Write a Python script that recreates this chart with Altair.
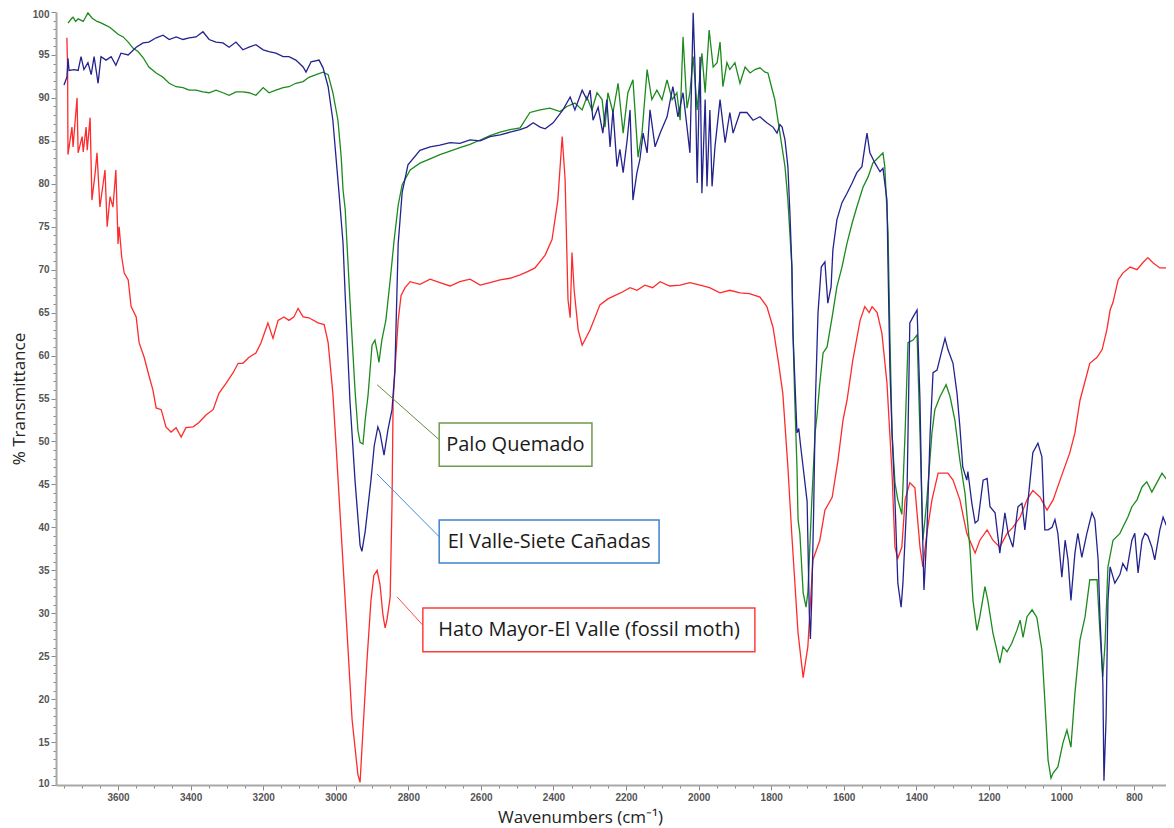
import altair as alt
import pandas as pd

# ---------------- data ----------------
RED_WN = [3741, 3739, 3738, 3727, 3724, 3713, 3710, 3699, 3696, 3688, 3685, 3677, 3672, 3663, 3658, 3650,
          3636, 3630, 3622, 3614, 3606, 3600, 3597, 3590, 3583, 3572, 3564, 3550, 3542, 3528, 3517, 3504,
          3495, 3481, 3468, 3454, 3440, 3426, 3413, 3393, 3377, 3357, 3338, 3322, 3302, 3283, 3269, 3256,
          3239, 3220, 3206, 3187, 3173, 3159, 3143, 3129, 3115, 3104, 3090, 3074, 3049, 3032, 3021, 3008,
          2999, 2974, 2955, 2939, 2933, 2925, 2914, 2903, 2895, 2886, 2878, 2870, 2864, 2859, 2850, 2845,
          2842, 2837, 2828, 2820, 2809, 2795, 2768, 2740, 2713, 2685, 2658, 2630, 2602, 2575, 2547, 2520,
          2492, 2470, 2451, 2423, 2404, 2388, 2376, 2368, 2360, 2354, 2349, 2343, 2332, 2321, 2299, 2272,
          2250, 2230, 2210, 2189, 2170, 2148, 2127, 2106, 2080, 2051, 2024, 1996, 1970, 1941, 1914, 1886,
          1860, 1831, 1812, 1795, 1781, 1768, 1754, 1743, 1726, 1712, 1699, 1685, 1666, 1652, 1632, 1616,
          1602, 1591, 1575, 1555, 1542, 1530, 1522, 1508, 1495, 1481, 1467, 1459, 1451, 1440, 1431, 1418,
          1404, 1390, 1382, 1371, 1357, 1340, 1313, 1299, 1280, 1261, 1238, 1225, 1205, 1189, 1170, 1150,
          1134, 1114, 1095, 1079, 1059, 1040, 1023, 1004, 977, 963, 949, 922, 902, 888, 875, 866,
          858, 844, 831, 811, 792, 776, 762, 748, 729, 709, 690]
RED_T = [97.0, 93.5, 83.4, 86.6, 84.3, 90.0, 83.6, 85.5, 83.7, 86.6, 83.9, 87.7, 78.1, 81.3, 83.6, 77.3,
         81.6, 75.0, 78.5, 77.3, 81.6, 73.0, 75.0, 71.5, 69.6, 68.8, 65.7, 64.5, 61.5, 59.8, 58.0, 56.0,
         53.9, 53.7, 51.7, 51.1, 51.6, 50.5, 51.6, 51.7, 52.2, 53.1, 53.7, 55.6, 56.8, 58.0, 59.1, 59.1,
         59.8, 60.3, 61.5, 63.8, 62.0, 64.1, 64.5, 64.1, 64.5, 65.5, 64.5, 64.4, 63.8, 63.6, 61.5, 55.6,
         49.4, 31.5, 17.6, 11.2, 10.3, 16.4, 24.5, 31.5, 34.4, 35.0, 33.3, 29.8, 28.3, 29.2, 31.9, 42.8,
         54.5, 58.3, 64.1, 67.0, 67.9, 68.6, 68.3, 68.9, 68.5, 68.1, 68.6, 68.9, 68.2, 68.5, 68.8, 69.0,
         69.4, 69.8, 70.2, 71.7, 73.5, 78.1, 85.5, 80.5, 66.5, 64.4, 72.0, 67.6, 63.0, 61.2, 63.0, 65.9,
         66.6, 67.0, 67.4, 67.9, 67.6, 68.2, 67.9, 68.6, 68.1, 68.2, 68.5, 68.2, 67.9, 67.3, 67.6, 67.3,
         67.2, 66.8, 65.7, 63.3, 59.5, 55.6, 47.0, 39.0, 27.7, 22.5, 26.1, 36.2, 38.5, 42.0, 43.5, 47.8,
         52.5, 54.8, 59.5, 64.1, 65.7, 65.0, 65.7, 65.0, 62.6, 56.8, 46.3, 37.7, 36.4, 37.7, 43.2, 45.2,
         44.6, 37.7, 35.4, 39.3, 43.2, 46.3, 46.3, 45.5, 43.2, 39.3, 37.0, 38.5, 39.7, 38.5, 37.7, 39.3,
         40.0, 41.2, 43.2, 44.3, 43.5, 42.0, 43.2, 45.5, 48.7, 51.0, 54.8, 59.1, 59.8, 60.7, 63.0, 65.3,
         66.2, 68.8, 69.6, 70.3, 70.0, 70.8, 71.4, 70.8, 70.2, 70.2, 69.6]

GREEN_WN = [3738, 3727, 3724, 3717, 3710, 3696, 3683, 3672, 3658, 3650, 3636, 3622, 3608, 3600, 3586, 3572,
            3559, 3545, 3531, 3515, 3495, 3476, 3459, 3440, 3421, 3404, 3385, 3366, 3349, 3330, 3311, 3294,
            3275, 3256, 3239, 3220, 3200, 3184, 3165, 3145, 3129, 3110, 3090, 3074, 3054, 3035, 3021, 3008,
            2994, 2985, 2980, 2974, 2961, 2947, 2939, 2933, 2925, 2919, 2911, 2900, 2892, 2886, 2881, 2873,
            2862, 2850, 2839, 2828, 2817, 2795, 2768, 2740, 2713, 2685, 2658, 2630, 2602, 2575, 2547, 2520,
            2492, 2465, 2437, 2410, 2382, 2363, 2341, 2321, 2308, 2294, 2280, 2266, 2258, 2250, 2236, 2222,
            2208, 2195, 2181, 2167, 2156, 2142, 2129, 2115, 2101, 2087, 2073, 2060, 2051, 2043, 2032, 2024,
            2015, 2004, 1991, 1982, 1971, 1960, 1949, 1941, 1933, 1922, 1914, 1900, 1886, 1872, 1858, 1845,
            1831, 1817, 1809, 1795, 1790, 1776, 1762, 1754, 1743, 1740, 1735, 1729, 1726, 1721, 1712, 1704,
            1699, 1688, 1679, 1674, 1666, 1657, 1646, 1632, 1619, 1605, 1591, 1577, 1564, 1547, 1533, 1520,
            1506, 1492, 1487, 1478, 1473, 1467, 1459, 1451, 1440, 1431, 1423, 1409, 1398, 1390, 1382, 1371,
            1357, 1349, 1335, 1318, 1307, 1294, 1280, 1266, 1252, 1244, 1233, 1225, 1211, 1203, 1189, 1170,
            1161, 1150, 1137, 1123, 1114, 1106, 1095, 1081, 1068, 1054, 1046, 1037, 1029, 1023, 1010, 996,
            985, 974, 963, 949, 935, 922, 902, 894, 886, 880, 872, 858, 839, 831, 817, 806,
            792, 778, 765, 751, 737, 723, 709, 695]
GREEN_T = [98.7, 99.3, 99.4, 98.9, 99.2, 98.9, 99.9, 99.3, 98.9, 98.8, 98.5, 98.2, 97.7, 97.4, 97.1, 96.5,
           95.8, 95.4, 94.7, 93.6, 92.9, 92.4, 91.7, 91.3, 91.2, 90.9, 90.9, 90.7, 90.6, 90.9, 90.6, 90.3,
           90.7, 90.7, 90.6, 90.3, 91.2, 90.6, 90.9, 91.2, 91.3, 91.7, 91.9, 92.4, 92.7, 93.0, 92.7, 90.6,
           87.4, 83.1, 79.3, 77.0, 66.5, 56.0, 51.3, 49.9, 49.7, 52.5, 55.4, 61.2, 61.8, 60.5, 59.2, 61.8,
           64.1, 68.8, 73.5, 77.5, 79.9, 81.6, 82.4, 82.9, 83.4, 83.8, 84.2, 84.6, 85.1, 85.6, 86.0, 86.3,
           86.5, 88.3, 88.6, 88.8, 88.4, 89.0, 89.4, 88.6, 90.1, 88.6, 90.6, 89.8, 86.6, 90.6, 88.3, 91.7,
           85.9, 90.6, 92.1, 83.1, 85.9, 93.3, 89.8, 90.9, 89.8, 92.1, 89.8, 90.6, 87.4, 97.1, 88.8, 90.6,
           94.8, 88.6, 95.2, 90.6, 97.9, 93.6, 94.1, 96.5, 91.3, 94.1, 93.3, 94.1, 91.7, 93.6, 92.9, 93.3,
           93.5, 93.0, 92.9, 90.6, 89.8, 85.9, 82.0, 78.1, 70.3, 62.6, 54.8, 47.0, 40.9, 39.3, 32.4, 30.7,
           32.4, 43.2, 51.0, 52.9, 56.8, 60.3, 61.0, 64.5, 68.0, 70.3, 73.1, 75.4, 77.3, 79.6, 80.8, 82.4,
           83.0, 83.6, 82.0, 74.3, 62.6, 51.0, 45.2, 43.2, 41.5, 51.0, 61.5, 61.8, 62.4, 51.0, 38.5, 43.2,
           51.0, 53.7, 55.2, 56.6, 55.2, 52.5, 47.8, 44.0, 37.4, 31.5, 28.0, 29.6, 33.1, 31.5, 27.7, 24.2,
           26.1, 25.5, 26.5, 28.0, 29.2, 27.2, 29.6, 30.4, 29.5, 25.7, 19.9, 12.9, 10.8, 11.4, 12.1, 14.9,
           16.4, 14.4, 20.7, 26.9, 29.6, 33.9, 33.9, 27.7, 22.6, 26.5, 35.4, 38.5, 39.3, 40.0, 41.2, 42.4,
           43.2, 44.7, 45.3, 44.1, 45.2, 46.3, 45.5, 43.2]

BLUE_WN = [3749, 3741, 3738, 3735, 3721, 3710, 3702, 3694, 3683, 3674, 3666, 3655, 3647, 3633, 3619, 3606,
           3592, 3572, 3550, 3531, 3515, 3495, 3476, 3459, 3440, 3421, 3404, 3385, 3366, 3349, 3330, 3311,
           3294, 3275, 3256, 3239, 3220, 3200, 3184, 3165, 3145, 3129, 3110, 3090, 3082, 3068, 3046, 3035,
           3021, 3008, 2991, 2980, 2974, 2961, 2947, 2933, 2928, 2919, 2911, 2903, 2894, 2884, 2878, 2867,
           2856, 2845, 2837, 2828, 2817, 2801, 2768, 2740, 2713, 2685, 2658, 2630, 2602, 2575, 2547, 2520,
           2492, 2473, 2456, 2437, 2423, 2401, 2374, 2354, 2341, 2321, 2308, 2299, 2291, 2277, 2264, 2253,
           2244, 2236, 2225, 2217, 2208, 2197, 2189, 2181, 2170, 2162, 2153, 2142, 2134, 2120, 2106, 2087,
           2071, 2057, 2043, 2032, 2024, 2015, 2010, 2004, 1996, 1991, 1982, 1977, 1969, 1963, 1955, 1941,
           1927, 1914, 1905, 1886, 1867, 1850, 1831, 1812, 1795, 1784, 1776, 1770, 1762, 1754, 1748, 1743,
           1740, 1729, 1724, 1719, 1712, 1701, 1695, 1692, 1688, 1683, 1678, 1671, 1662, 1652, 1644, 1635,
           1630, 1619, 1605, 1591, 1577, 1564, 1550, 1542, 1536, 1528, 1514, 1500, 1492, 1481, 1478, 1473,
           1467, 1459, 1451, 1442, 1437, 1426, 1418, 1409, 1398, 1390, 1385, 1379, 1371, 1362, 1354, 1343,
           1329, 1321, 1313, 1299, 1288, 1280, 1272, 1261, 1258, 1247, 1238, 1230, 1216, 1205, 1197, 1183,
           1170, 1156, 1147, 1134, 1120, 1109, 1101, 1092, 1079, 1065, 1054, 1046, 1037, 1026, 1018, 1010,
           999, 990, 982, 974, 963, 955, 944, 930, 916, 908, 899, 894, 886, 883, 877, 872,
           866, 853, 839, 831, 820, 806, 798, 789, 778, 770, 762, 751, 743, 729, 720, 709,
           701, 693]
BLUE_T = [91.5, 92.4, 94.6, 93.2, 93.3, 93.2, 94.8, 93.3, 94.1, 92.7, 94.8, 91.7, 94.8, 94.4, 94.8, 93.8,
          95.2, 95.0, 95.9, 96.4, 96.5, 97.0, 97.3, 96.8, 97.1, 96.8, 97.0, 97.1, 97.7, 96.8, 96.5, 96.4,
          95.9, 96.5, 95.6, 95.9, 96.2, 95.6, 95.4, 95.2, 94.8, 94.8, 94.4, 93.6, 93.0, 94.2, 94.4, 93.5,
          91.3, 87.4, 78.9, 73.1, 67.0, 54.8, 45.5, 37.9, 37.2, 39.5, 42.5, 45.5, 49.5, 51.7, 51.0, 48.4,
          51.4, 53.7, 58.3, 73.0, 79.0, 82.2, 83.9, 84.3, 84.5, 84.8, 84.7, 85.1, 85.0, 85.5, 85.7, 86.0,
          86.3, 86.6, 87.1, 86.6, 86.4, 87.1, 88.6, 90.1, 88.6, 90.9, 89.8, 90.9, 87.4, 88.9, 85.9, 89.8,
          84.3, 88.6, 82.0, 84.0, 81.3, 85.1, 88.6, 78.1, 81.3, 82.8, 85.9, 83.6, 88.6, 84.3, 85.9, 87.8,
          91.3, 87.8, 90.6, 86.6, 83.6, 99.9, 93.6, 80.1, 94.8, 78.9, 89.8, 79.7, 88.6, 79.7, 84.3, 89.8,
          84.8, 88.3, 85.9, 88.3, 88.3, 87.4, 87.8, 87.1, 86.6, 85.9, 86.9, 86.6, 85.1, 82.0, 76.1, 70.3,
          62.6, 51.0, 51.5, 49.5, 47.0, 43.0, 30.0, 27.0, 32.0, 42.0, 55.0, 65.0, 70.3, 70.9, 66.1, 68.0,
          72.3, 75.8, 77.8, 78.9, 80.1, 81.3, 82.0, 84.3, 85.9, 83.6, 82.4, 81.4, 81.8, 78.1, 70.3, 58.7,
          51.0, 43.2, 33.5, 30.7, 33.5, 43.2, 63.8, 64.5, 65.3, 54.8, 43.2, 32.7, 39.3, 51.0, 58.0, 58.3,
          60.7, 62.0, 60.7, 59.1, 55.6, 51.7, 47.0, 45.5, 46.5, 42.8, 40.5, 40.8, 45.5, 45.7, 42.4, 41.7,
          37.0, 41.7, 39.3, 37.7, 42.4, 42.8, 39.7, 43.2, 48.7, 49.8, 48.2, 39.7, 39.7, 40.0, 40.9, 39.3,
          34.2, 38.5, 36.2, 31.5, 37.0, 39.3, 36.5, 39.3, 41.7, 40.9, 36.2, 29.6, 21.9, 10.5, 17.9, 31.5,
          35.4, 33.5, 34.5, 35.8, 35.0, 38.5, 39.3, 34.7, 38.5, 39.3, 39.0, 37.7, 36.2, 39.7, 41.2, 40.0,
          33.5, 30.4]

SERIES = ["Hato Mayor-El Valle (fossil moth)", "Palo Quemado", "El Valle-Siete Cañadas"]
LINE_COLORS = ["#ff2b2b", "#1c8a1c", "#23238f"]

# annotation boxes (in data units: wavenumber / % transmittance)
ANN_NAME = ["Palo Quemado", "El Valle-Siete Cañadas", "Hato Mayor-El Valle (fossil moth)"]
BOX_X1 = [2715, 2715, 2760]
BOX_X2 = [2294, 2109, 1845]
BOX_Y1 = [52.15, 40.86, 30.6]
BOX_Y2 = [47.1, 35.85, 25.5]
TEXT_X = [2505, 2412, 2302]
TEXT_Y = [49.6, 38.35, 28.05]
LEAD_X1 = [2886, 2886, 2831]
LEAD_Y1 = [56.6, 46.2, 31.9]
LEAD_X2 = [2715, 2715, 2760]
LEAD_Y2 = [50.2, 38.9, 28.6]
BOX_COLORS = ["#6f9b4c", "#3c82cf", "#ff3d3d"]
LEAD_COLORS = ["#5f8a3f", "#3a8fe0", "#ff4a4a"]

X_TICKS = list(range(3750, 699, -50))
Y_TICKS = list(range(10, 101))

# ---------------- build tables ----------------
rows = []
for name, wns, ts in [(SERIES[0], RED_WN, RED_T), (SERIES[1], GREEN_WN, GREEN_T), (SERIES[2], BLUE_WN, BLUE_T)]:
    for i, (w, t) in enumerate(zip(wns, ts)):
        rows.append({"series": name, "wn": w, "T": t, "idx": i})
df = pd.DataFrame(rows)

ann = pd.DataFrame({
    "name": ANN_NAME, "bx1": BOX_X1, "bx2": BOX_X2, "by1": BOX_Y1, "by2": BOX_Y2,
    "tx": TEXT_X, "ty": TEXT_Y, "lx1": LEAD_X1, "ly1": LEAD_Y1, "lx2": LEAD_X2, "ly2": LEAD_Y2,
})

x_scale = alt.Scale(domain=[712, 3771], reverse=True, nice=False, zero=False)
y_scale = alt.Scale(domain=[10, 100], nice=False, zero=False)

x_axis = alt.Axis(
    values=X_TICKS, format="d",
    labelExpr="datum.value % 200 === 0 ? datum.label : ''",
    tickSize={"condition": {"test": "datum.value % 200 === 0", "value": 5}, "value": 3},
    grid=False, domainColor="#a8a8a8", domainWidth=2, tickColor="#8a8a8a",
    labelFont="Liberation Sans", labelFontSize=10, labelFontWeight="bold", labelColor="#555555",
    labelPadding=2,
    title="Wavenumbers (cm⁻¹)", titleFont="Open Sans", titleFontSize=17, titleFontWeight="normal",
    titleColor="#222222", titleX=524, titleY=32, titleBaseline="middle", titleAlign="center",
)
y_axis = alt.Axis(
    values=Y_TICKS, format="d",
    labelExpr="datum.value % 5 === 0 ? datum.label : ''",
    tickSize={"condition": {"test": "datum.value % 5 === 0", "value": 5}, "value": 3},
    grid=False, domainColor="#a8a8a8", domainWidth=2, tickColor="#8a8a8a",
    labelFont="Liberation Sans", labelFontSize=10, labelFontWeight="bold", labelColor="#555555",
    labelPadding=2, labelFlush=True, labelFlushOffset=3,
    title="% Transmittance", titleFont="Open Sans", titleFontSize=17, titleFontWeight="normal",
    titleColor="#222222", titlePadding=4,
)

base = alt.Chart(df)
layers = []
for name, color in zip(SERIES, LINE_COLORS):
    layers.append(
        base.transform_filter(alt.datum.series == name)
        .mark_line(color=color, strokeWidth=1.3, clip=True)
        .encode(
            x=alt.X("wn:Q", scale=x_scale, axis=x_axis),
            y=alt.Y("T:Q", scale=y_scale, axis=y_axis),
            order="idx:Q",
        )
    )

ann_base = alt.Chart(ann)
leaders = ann_base.mark_rule(strokeWidth=1).encode(
    x=alt.X("lx1:Q", scale=x_scale, axis=x_axis),
    x2="lx2:Q",
    y=alt.Y("ly1:Q", scale=y_scale, axis=y_axis),
    y2="ly2:Q",
    color=alt.Color("name:N", scale=alt.Scale(domain=ANN_NAME, range=LEAD_COLORS), legend=None),
)
boxes = ann_base.mark_rect(fill="white", strokeWidth=1.5).encode(
    x=alt.X("bx1:Q", scale=x_scale, axis=x_axis),
    x2="bx2:Q",
    y=alt.Y("by1:Q", scale=y_scale, axis=y_axis),
    y2="by2:Q",
    stroke=alt.Stroke("name:N", scale=alt.Scale(domain=ANN_NAME, range=BOX_COLORS), legend=None),
)
texts = ann_base.mark_text(font="Open Sans", fontSize=20, color="#1a1a1a", align="center",
                           baseline="middle").encode(
    x=alt.X("tx:Q", scale=x_scale, axis=x_axis),
    y=alt.Y("ty:Q", scale=y_scale, axis=y_axis),
    text="name:N",
)

chart = alt.layer(*layers, leaders, boxes, texts).resolve_scale(color="independent").properties(
    width=1110, height=773,
    padding={"left": 48, "top": 4, "right": 0, "bottom": 42},
    autosize=alt.AutoSizeParams(type="none"),
    background="white",
).configure_view(stroke=None)

chart.save("out.html", embed_options={"renderer": "svg", "actions": False})
